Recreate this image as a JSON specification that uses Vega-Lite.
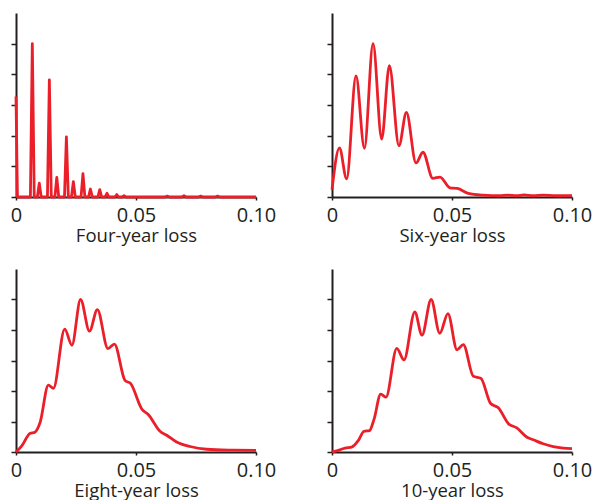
{
  "$schema": "https://vega.github.io/schema/vega-lite/v6.json",
  "padding": {"left": 10, "top": 13, "right": 0, "bottom": 0},
  "background": "white",
  "datasets": {
    "curves": [
      {"panel": "four", "loss": 0, "density": 3.28},
      {"panel": "four", "loss": 0.0006, "density": 0},
      {"panel": "four", "loss": 0.006, "density": 0},
      {"panel": "four", "loss": 0.0068, "density": 5},
      {"panel": "four", "loss": 0.0076, "density": 0},
      {"panel": "four", "loss": 0.0089, "density": 0},
      {"panel": "four", "loss": 0.0097, "density": 0.45},
      {"panel": "four", "loss": 0.0105, "density": 0},
      {"panel": "four", "loss": 0.0131, "density": 0},
      {"panel": "four", "loss": 0.0139, "density": 3.82},
      {"panel": "four", "loss": 0.0147, "density": 0},
      {"panel": "four", "loss": 0.0162, "density": 0},
      {"panel": "four", "loss": 0.017, "density": 0.64},
      {"panel": "four", "loss": 0.0178, "density": 0},
      {"panel": "four", "loss": 0.0202, "density": 0},
      {"panel": "four", "loss": 0.021, "density": 1.96},
      {"panel": "four", "loss": 0.0218, "density": 0},
      {"panel": "four", "loss": 0.0231, "density": 0},
      {"panel": "four", "loss": 0.0239, "density": 0.5},
      {"panel": "four", "loss": 0.0247, "density": 0},
      {"panel": "four", "loss": 0.0271, "density": 0},
      {"panel": "four", "loss": 0.0279, "density": 0.76},
      {"panel": "four", "loss": 0.0287, "density": 0},
      {"panel": "four", "loss": 0.0302, "density": 0},
      {"panel": "four", "loss": 0.031, "density": 0.26},
      {"panel": "four", "loss": 0.0318, "density": 0},
      {"panel": "four", "loss": 0.0341, "density": 0},
      {"panel": "four", "loss": 0.0349, "density": 0.24},
      {"panel": "four", "loss": 0.0357, "density": 0},
      {"panel": "four", "loss": 0.0371, "density": 0},
      {"panel": "four", "loss": 0.0379, "density": 0.12},
      {"panel": "four", "loss": 0.0387, "density": 0},
      {"panel": "four", "loss": 0.0412, "density": 0},
      {"panel": "four", "loss": 0.042, "density": 0.08},
      {"panel": "four", "loss": 0.0428, "density": 0},
      {"panel": "four", "loss": 0.0442, "density": 0},
      {"panel": "four", "loss": 0.045, "density": 0.04},
      {"panel": "four", "loss": 0.0458, "density": 0},
      {"panel": "four", "loss": 0.062, "density": 0},
      {"panel": "four", "loss": 0.063, "density": 0.03},
      {"panel": "four", "loss": 0.064, "density": 0},
      {"panel": "four", "loss": 0.069, "density": 0},
      {"panel": "four", "loss": 0.07, "density": 0.04},
      {"panel": "four", "loss": 0.071, "density": 0},
      {"panel": "four", "loss": 0.076, "density": 0},
      {"panel": "four", "loss": 0.077, "density": 0.03},
      {"panel": "four", "loss": 0.078, "density": 0},
      {"panel": "four", "loss": 0.083, "density": 0},
      {"panel": "four", "loss": 0.084, "density": 0.03},
      {"panel": "four", "loss": 0.085, "density": 0},
      {"panel": "four", "loss": 0.1, "density": 0},

      {"panel": "six", "loss": 0, "density": 0.24},
      {"panel": "six", "loss": 0.0031, "density": 1.6},
      {"panel": "six", "loss": 0.0061, "density": 0.59},
      {"panel": "six", "loss": 0.01, "density": 3.95},
      {"panel": "six", "loss": 0.0135, "density": 1.59},
      {"panel": "six", "loss": 0.0171, "density": 5},
      {"panel": "six", "loss": 0.0207, "density": 1.89},
      {"panel": "six", "loss": 0.0239, "density": 4.28},
      {"panel": "six", "loss": 0.0279, "density": 1.67},
      {"panel": "six", "loss": 0.031, "density": 2.76},
      {"panel": "six", "loss": 0.035, "density": 1.11},
      {"panel": "six", "loss": 0.0379, "density": 1.46},
      {"panel": "six", "loss": 0.042, "density": 0.61},
      {"panel": "six", "loss": 0.045, "density": 0.65},
      {"panel": "six", "loss": 0.0492, "density": 0.3},
      {"panel": "six", "loss": 0.0522, "density": 0.28},
      {"panel": "six", "loss": 0.0568, "density": 0.12},
      {"panel": "six", "loss": 0.0631, "density": 0.06},
      {"panel": "six", "loss": 0.07, "density": 0.04},
      {"panel": "six", "loss": 0.073, "density": 0.06},
      {"panel": "six", "loss": 0.077, "density": 0.04},
      {"panel": "six", "loss": 0.08, "density": 0.07},
      {"panel": "six", "loss": 0.084, "density": 0.04},
      {"panel": "six", "loss": 0.088, "density": 0.06},
      {"panel": "six", "loss": 0.093, "density": 0.04},
      {"panel": "six", "loss": 0.1, "density": 0.04},

      {"panel": "eight", "loss": 0, "density": 0},
      {"panel": "eight", "loss": 0.0024, "density": 0.2},
      {"panel": "eight", "loss": 0.0058, "density": 0.61},
      {"panel": "eight", "loss": 0.0079, "density": 0.65},
      {"panel": "eight", "loss": 0.01, "density": 0.96},
      {"panel": "eight", "loss": 0.0135, "density": 2.19},
      {"panel": "eight", "loss": 0.0156, "density": 2.09},
      {"panel": "eight", "loss": 0.0203, "density": 4.03},
      {"panel": "eight", "loss": 0.0233, "density": 3.5},
      {"panel": "eight", "loss": 0.0269, "density": 5},
      {"panel": "eight", "loss": 0.0306, "density": 3.96},
      {"panel": "eight", "loss": 0.0339, "density": 4.67},
      {"panel": "eight", "loss": 0.0383, "density": 3.39},
      {"panel": "eight", "loss": 0.041, "density": 3.54},
      {"panel": "eight", "loss": 0.0454, "density": 2.35},
      {"panel": "eight", "loss": 0.0478, "density": 2.24},
      {"panel": "eight", "loss": 0.0524, "density": 1.41},
      {"panel": "eight", "loss": 0.0551, "density": 1.23},
      {"panel": "eight", "loss": 0.06, "density": 0.68},
      {"panel": "eight", "loss": 0.0628, "density": 0.55},
      {"panel": "eight", "loss": 0.0669, "density": 0.33},
      {"panel": "eight", "loss": 0.0725, "density": 0.18},
      {"panel": "eight", "loss": 0.0794, "density": 0.09},
      {"panel": "eight", "loss": 0.0906, "density": 0.06},
      {"panel": "eight", "loss": 0.1, "density": 0.05},

      {"panel": "ten", "loss": 0, "density": 0},
      {"panel": "ten", "loss": 0.0033, "density": 0.07},
      {"panel": "ten", "loss": 0.0054, "density": 0.13},
      {"panel": "ten", "loss": 0.0082, "density": 0.16},
      {"panel": "ten", "loss": 0.011, "density": 0.38},
      {"panel": "ten", "loss": 0.0133, "density": 0.68},
      {"panel": "ten", "loss": 0.0156, "density": 0.7},
      {"panel": "ten", "loss": 0.0175, "density": 1.07},
      {"panel": "ten", "loss": 0.0203, "density": 1.9},
      {"panel": "ten", "loss": 0.0225, "density": 1.8},
      {"panel": "ten", "loss": 0.027, "density": 3.4},
      {"panel": "ten", "loss": 0.03, "density": 3.02},
      {"panel": "ten", "loss": 0.0345, "density": 4.59},
      {"panel": "ten", "loss": 0.0375, "density": 3.83},
      {"panel": "ten", "loss": 0.0413, "density": 5},
      {"panel": "ten", "loss": 0.0449, "density": 3.89},
      {"panel": "ten", "loss": 0.0483, "density": 4.54},
      {"panel": "ten", "loss": 0.0521, "density": 3.35},
      {"panel": "ten", "loss": 0.0547, "density": 3.52},
      {"panel": "ten", "loss": 0.0589, "density": 2.48},
      {"panel": "ten", "loss": 0.062, "density": 2.42},
      {"panel": "ten", "loss": 0.0661, "density": 1.59},
      {"panel": "ten", "loss": 0.0693, "density": 1.45},
      {"panel": "ten", "loss": 0.0735, "density": 0.93},
      {"panel": "ten", "loss": 0.077, "density": 0.79},
      {"panel": "ten", "loss": 0.0811, "density": 0.49},
      {"panel": "ten", "loss": 0.0839, "density": 0.4},
      {"panel": "ten", "loss": 0.088, "density": 0.27},
      {"panel": "ten", "loss": 0.0922, "density": 0.18},
      {"panel": "ten", "loss": 0.0964, "density": 0.13},
      {"panel": "ten", "loss": 0.1, "density": 0.11}
    ]
  },
  "data": {"name": "curves"},
  "columns": 2,
  "spacing": {"row": 72, "column": 76},
  "bounds": "flush",
  "concat": [
    {
      "width": 240, "height": 184,
      "transform": [{"filter": "datum.panel === 'four'"}],
      "mark": {"type": "line", "color": "#EA1F29", "strokeWidth": 2.8, "interpolate": "linear", "strokeJoin": "round"},
      "encoding": {
        "x": {"field": "loss", "type": "quantitative", "scale": {"domain": [0, 0.1]}, "axis": {"title": "Four-year loss", "values": [0, 0.05, 0.1]}},
        "y": {"field": "density", "type": "quantitative", "scale": {"domain": [0, 6]}, "axis": {"title": null, "values": [0, 1, 2, 3, 4, 5]}}
      }
    },
    {
      "width": 240, "height": 184,
      "transform": [{"filter": "datum.panel === 'six'"}],
      "mark": {"type": "line", "color": "#EA1F29", "strokeWidth": 2.8, "interpolate": "monotone"},
      "encoding": {
        "x": {"field": "loss", "type": "quantitative", "scale": {"domain": [0, 0.1]}, "axis": {"title": "Six-year loss", "values": [0, 0.05, 0.1]}},
        "y": {"field": "density", "type": "quantitative", "scale": {"domain": [0, 6]}, "axis": {"title": null, "values": [0, 1, 2, 3, 4, 5]}}
      }
    },
    {
      "width": 240, "height": 183,
      "transform": [{"filter": "datum.panel === 'eight'"}],
      "mark": {"type": "line", "color": "#EA1F29", "strokeWidth": 2.8, "interpolate": "monotone"},
      "encoding": {
        "x": {"field": "loss", "type": "quantitative", "scale": {"domain": [0, 0.1]}, "axis": {"title": "Eight-year loss", "values": [0, 0.05, 0.1]}},
        "y": {"field": "density", "type": "quantitative", "scale": {"domain": [0, 6]}, "axis": {"title": null, "values": [0, 1, 2, 3, 4, 5]}}
      }
    },
    {
      "width": 240, "height": 183,
      "transform": [{"filter": "datum.panel === 'ten'"}],
      "mark": {"type": "line", "color": "#EA1F29", "strokeWidth": 2.8, "interpolate": "monotone"},
      "encoding": {
        "x": {"field": "loss", "type": "quantitative", "scale": {"domain": [0, 0.1]}, "axis": {"title": "10-year loss", "values": [0, 0.05, 0.1]}},
        "y": {"field": "density", "type": "quantitative", "scale": {"domain": [0, 6]}, "axis": {"title": null, "values": [0, 1, 2, 3, 4, 5]}}
      }
    }
  ],
  "config": {
    "view": {"stroke": null},
    "axis": {
      "grid": false,
      "domainColor": "#231f20",
      "domainWidth": 2,
      "tickColor": "#231f20",
      "tickWidth": 1.5,
      "labelFont": "Open Sans",
      "labelFontSize": 20,
      "labelColor": "#231f20",
      "titleFont": "Open Sans",
      "titleFontSize": 18.5,
      "titleFontWeight": "normal",
      "titleColor": "#231f20"
    },
    "axisX": {
      "tickSize": 3,
      "labelPadding": 5,
      "labelFlush": false,
      "labelExpr": "datum.value === 0 ? '0' : format(datum.value, '.2f')",
      "titlePadding": 1
    },
    "axisY": {
      "tickSize": 5,
      "labels": false
    }
  }
}
